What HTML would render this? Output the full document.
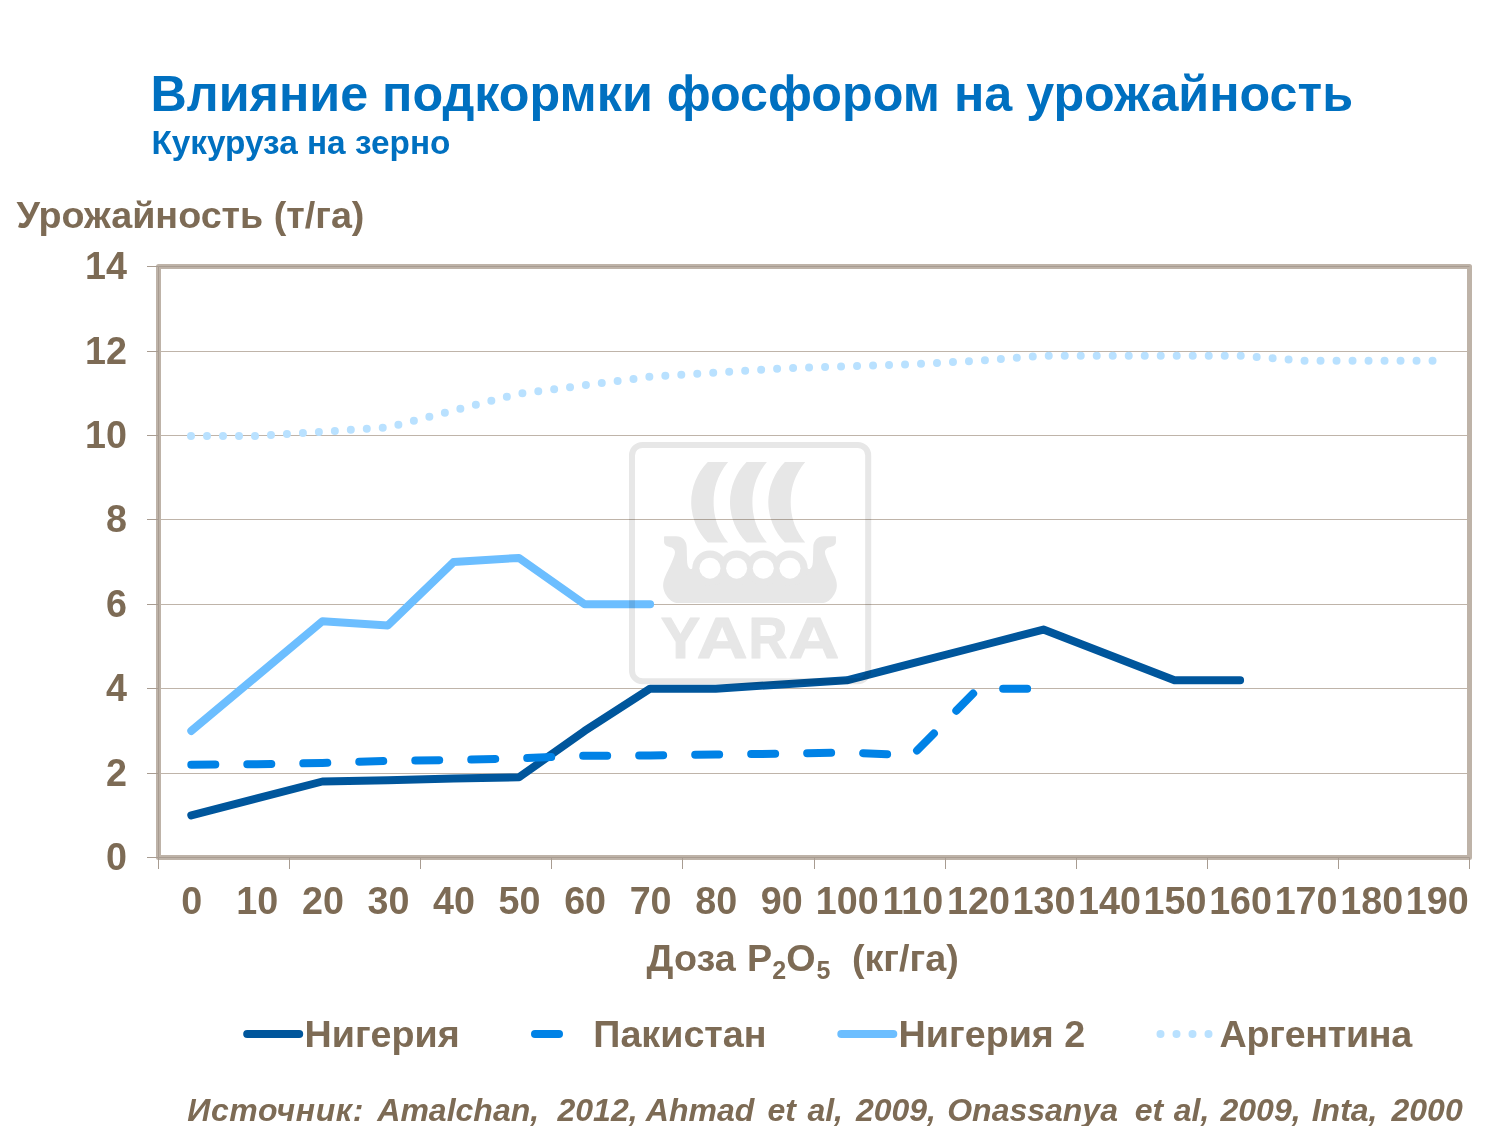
<!DOCTYPE html>
<html lang="ru"><head><meta charset="utf-8"><title>Влияние подкормки фосфором на урожайность</title>
<style>html,body{margin:0;padding:0;background:#fff}body{width:1500px;height:1126px;overflow:hidden}svg{display:block}text{font-family:"Liberation Sans", Arial, sans-serif;font-weight:bold}.c{font-size:37.7px;fill:#7D6B55}.b{fill:#0070C0}.s{fill:none;stroke-width:8;stroke-linecap:round;stroke-linejoin:round}.src{font-size:32px;font-style:italic;fill:#7D6B55}</style></head><body>
<svg width="1500" height="1126" viewBox="0 0 1500 1126">
<rect width="1500" height="1126" fill="#fff"/>
<text class="b" x="150.5" y="111" font-size="50.25">Влияние подкормки фосфором на урожайность</text>
<text class="b" x="151.4" y="154.3" font-size="33.33">Кукуруза на зерно</text>
<text class="c" x="16.5" y="228">Урожайность (т/га)</text>
<g stroke="#BFB4A9" stroke-width="1">
<line x1="158.5" x2="1469.5" y1="773.5" y2="773.5"/>
<line x1="158.5" x2="1469.5" y1="688.5" y2="688.5"/>
<line x1="158.5" x2="1469.5" y1="604.5" y2="604.5"/>
<line x1="158.5" x2="1469.5" y1="519.5" y2="519.5"/>
<line x1="158.5" x2="1469.5" y1="435.5" y2="435.5"/>
<line x1="158.5" x2="1469.5" y1="351.5" y2="351.5"/>
</g>
<rect x="158.5" y="266.5" width="1311.0" height="591.0" fill="none" stroke="#BEB3A8" stroke-width="5" stroke-linejoin="round"/>
<g stroke="#A89C91" stroke-width="1">
<line x1="158.5" x2="158.5" y1="266.5" y2="857.5"/>
<line x1="158.5" x2="1469.5" y1="857.5" y2="857.5"/>
<line x1="158.5" x2="1469.5" y1="266.5" y2="266.5"/>
<line x1="147" x2="158.5" y1="857.5" y2="857.5"/>
<line x1="147" x2="158.5" y1="773.5" y2="773.5"/>
<line x1="147" x2="158.5" y1="688.5" y2="688.5"/>
<line x1="147" x2="158.5" y1="604.5" y2="604.5"/>
<line x1="147" x2="158.5" y1="519.5" y2="519.5"/>
<line x1="147" x2="158.5" y1="435.5" y2="435.5"/>
<line x1="147" x2="158.5" y1="351.5" y2="351.5"/>
<line x1="147" x2="158.5" y1="266.5" y2="266.5"/>
<line x1="158.5" x2="158.5" y1="857.5" y2="869"/>
<line x1="289.5" x2="289.5" y1="857.5" y2="869"/>
<line x1="420.5" x2="420.5" y1="857.5" y2="869"/>
<line x1="551.5" x2="551.5" y1="857.5" y2="869"/>
<line x1="682.5" x2="682.5" y1="857.5" y2="869"/>
<line x1="814.5" x2="814.5" y1="857.5" y2="869"/>
<line x1="945.5" x2="945.5" y1="857.5" y2="869"/>
<line x1="1076.5" x2="1076.5" y1="857.5" y2="869"/>
<line x1="1207.5" x2="1207.5" y1="857.5" y2="869"/>
<line x1="1338.5" x2="1338.5" y1="857.5" y2="869"/>
<line x1="1469.5" x2="1469.5" y1="857.5" y2="869"/>
</g>
<g class="c" text-anchor="end">
<text transform="translate(127,279.1) scale(1,1.045)">14</text>
<text transform="translate(127,363.5) scale(1,1.045)">12</text>
<text transform="translate(127,447.9) scale(1,1.045)">10</text>
<text transform="translate(127,532.3) scale(1,1.045)">8</text>
<text transform="translate(127,616.7) scale(1,1.045)">6</text>
<text transform="translate(127,701.1) scale(1,1.045)">4</text>
<text transform="translate(127,785.5) scale(1,1.045)">2</text>
<text transform="translate(127,869.9) scale(1,1.045)">0</text>
</g>
<g class="c" text-anchor="middle">
<text transform="translate(191.8,914) scale(1,1.045)">0</text>
<text transform="translate(257.3,914) scale(1,1.045)">10</text>
<text transform="translate(322.9,914) scale(1,1.045)">20</text>
<text transform="translate(388.4,914) scale(1,1.045)">30</text>
<text transform="translate(454.0,914) scale(1,1.045)">40</text>
<text transform="translate(519.5,914) scale(1,1.045)">50</text>
<text transform="translate(585.1,914) scale(1,1.045)">60</text>
<text transform="translate(650.6,914) scale(1,1.045)">70</text>
<text transform="translate(716.2,914) scale(1,1.045)">80</text>
<text transform="translate(781.7,914) scale(1,1.045)">90</text>
<text transform="translate(847.3,914) scale(1,1.045)">100</text>
<text transform="translate(912.8,914) scale(1,1.045)">110</text>
<text transform="translate(978.4,914) scale(1,1.045)">120</text>
<text transform="translate(1043.9,914) scale(1,1.045)">130</text>
<text transform="translate(1109.5,914) scale(1,1.045)">140</text>
<text transform="translate(1175.0,914) scale(1,1.045)">150</text>
<text transform="translate(1240.6,914) scale(1,1.045)">160</text>
<text transform="translate(1306.1,914) scale(1,1.045)">170</text>
<text transform="translate(1371.7,914) scale(1,1.045)">180</text>
<text transform="translate(1437.2,914) scale(1,1.045)">190</text>
</g>
<polyline class="s" points="191.3,815.3 322.4,781.5 387.9,780.3 453.5,778.6 519.0,777.3 584.6,730.9 650.1,688.7 715.7,688.7 781.2,684.5 846.8,680.3 912.3,663.4 977.9,646.5 1043.4,629.6 1174.5,680.3 1240.1,680.3" stroke="#00569C"/>
<polyline class="s" points="191.3,764.7 256.8,764.2 322.4,763.0 387.9,760.9 453.5,760.0 519.0,758.3 584.6,755.8 650.1,755.4 715.7,754.5 781.2,753.7 846.8,752.4 912.3,755.4 977.9,688.7 1043.4,688.7" stroke="#0082E6" stroke-dasharray="24 32"/>
<polyline class="s" points="191.3,730.9 322.4,621.2 387.9,625.4 453.5,562.1 519.0,557.9 584.6,604.3 650.1,604.3" stroke="#6CBEFF"/>
<polyline class="s" transform="translate(-0.3,0.4)" points="191.3,435.5 256.8,435.5 322.4,431.3 387.9,427.1 453.5,410.2 519.0,393.3 584.6,384.9 650.1,376.4 715.7,372.2 781.2,368.0 846.8,365.9 912.3,363.8 977.9,360.4 1043.4,355.3 1109.0,355.3 1174.5,355.3 1240.1,355.3 1305.6,360.4 1371.2,360.4 1436.7,360.4" stroke="#B9E1FF" stroke-dasharray="0 16"/>
<text class="c" x="646.6" y="971.4">Доза <tspan dx="1">P</tspan><tspan font-size="25" dy="8">2</tspan><tspan dy="-8">O</tspan><tspan font-size="25" dy="8" dx="1">5</tspan><tspan dy="-8" dx="0.6" xml:space="preserve">  (кг/га)</tspan></text>
<line class="s" x1="247.2" x2="299.2" y1="1034" y2="1034" stroke="#00569C"/>
<line class="s" x1="535.0" x2="587.0" y1="1034" y2="1034" stroke="#0082E6" stroke-dasharray="24 32"/>
<line class="s" x1="841.3" x2="893.3" y1="1034" y2="1034" stroke="#6CBEFF"/>
<line class="s" x1="1160.5" x2="1212.5" y1="1034" y2="1034" stroke="#B9E1FF" stroke-dasharray="0 16"/>
<text class="c" x="304.5" y="1047.3">Нигерия</text>
<text class="c" x="593.3" y="1047.3">Пакистан</text>
<text class="c" x="898.6" y="1047.3">Нигерия 2</text>
<text class="c" x="1219.6" y="1047.3" letter-spacing="-0.3">Аргентина</text>
<text class="src" y="1121"><tspan x="187.3" letter-spacing="0.6">Источник:</tspan> <tspan x="377.3">Amalchan,</tspan> <tspan x="557.5">2012,</tspan> <tspan x="645.8">Ahmad</tspan> <tspan x="767.5">et</tspan> <tspan x="807.4">al,</tspan> <tspan x="855.9">2009,</tspan> <tspan x="947.2">Onassanya</tspan> <tspan x="1134.8">et</tspan> <tspan x="1173.8">al,</tspan> <tspan x="1220.5">2009,</tspan> <tspan x="1311.7">Inta,</tspan> <tspan x="1391.5">2000</tspan></text>
<g style="mix-blend-mode:multiply" fill="#E7E7E7">
<rect x="632" y="444.9" width="236.2" height="236.3" rx="10.5" ry="10.5" fill="none" stroke="#E7E7E7" stroke-width="6"/>
<path d="M707.8,462.1 A57.1,57.1 0 0 0 707.8,542.6 L728.1,542.6 C716.92,529 713.6,515.41 713.6,502.35 C713.6,489.29 716.92,475.7 728.1,462.1 Z"/>
<path d="M746.6,462.1 A57.1,57.1 0 0 0 746.6,542.6 L766.9,542.6 C755.72,529 752.4,515.41 752.4,502.35 C752.4,489.29 755.72,475.7 766.9,462.1 Z"/>
<path d="M784.9,462.1 A57.1,57.1 0 0 0 784.9,542.6 L805.2,542.6 C794.02,529 790.7,515.41 790.7,502.35 C790.7,489.29 794.02,475.7 805.2,462.1 Z"/>
<path d="M692.50,568.00 C692.30,569.30 690.60,569.40 689.60,568.60 C687.60,567.00 687.10,563.50 687.00,559.00 L686.70,547.20 C686.70,540.80 682.20,536.30 676.10,536.30 L664.90,536.30 C664.30,536.30 664.05,536.60 664.05,537.10 L664.05,541.60 C664.05,545.00 666.60,546.50 669.30,546.90 C672.60,547.30 675.00,549.30 675.00,552.20 C675.00,556.50 669.50,567.00 665.40,576.00 C663.80,579.60 663.15,582.50 663.15,585.40 C663.15,593.00 670.00,603.10 678.40,603.10 L821.60,603.10 C830.00,603.10 836.85,593.00 836.85,585.40 C836.85,582.50 836.20,579.60 834.60,576.00 C830.50,567.00 825.00,556.50 825.00,552.20 C825.00,549.30 827.40,547.30 830.70,546.90 C833.40,546.50 835.95,545.00 835.95,541.60 L835.95,537.10 C835.95,536.60 835.70,536.30 835.10,536.30 L823.90,536.30 C817.80,536.30 813.30,540.80 813.30,547.20 L813.00,559.00 C812.90,563.50 812.40,567.00 810.40,568.60 C809.40,569.40 807.70,569.30 807.50,568.00 Z"/>
<circle cx="709.94" cy="568.17" r="17.66"/>
<circle cx="736.60" cy="568.17" r="17.66"/>
<circle cx="763.30" cy="568.17" r="17.66"/>
<circle cx="789.96" cy="568.17" r="17.66"/>
<circle cx="709.94" cy="568.17" r="10.5" fill="#fff"/>
<circle cx="736.60" cy="568.17" r="10.5" fill="#fff"/>
<circle cx="763.30" cy="568.17" r="10.5" fill="#fff"/>
<circle cx="789.96" cy="568.17" r="10.5" fill="#fff"/>
<text transform="translate(660.8,658.3) scale(0.9885,0.95)" font-size="60" stroke="#E7E7E7" stroke-width="1.2" stroke-linejoin="round">Y</text>
<text transform="translate(696.7,658.3) scale(1.1730,0.95)" font-size="60" stroke="#E7E7E7" stroke-width="1.2" stroke-linejoin="round">A</text>
<text transform="translate(748.4,658.3) scale(0.8970,0.95)" font-size="60" stroke="#E7E7E7" stroke-width="1.2" stroke-linejoin="round">R</text>
<text transform="translate(788.4,658.3) scale(1.1730,0.95)" font-size="60" stroke="#E7E7E7" stroke-width="1.2" stroke-linejoin="round">A</text>
</g>
</svg></body></html>
